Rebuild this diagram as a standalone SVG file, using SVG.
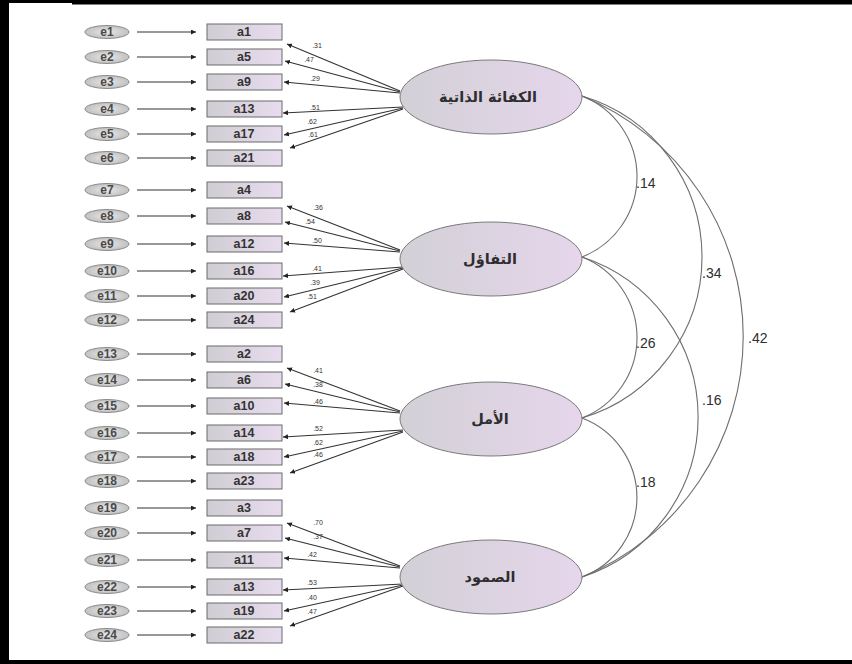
<svg xmlns="http://www.w3.org/2000/svg" width="852" height="664" viewBox="0 0 852 664">
  <defs>
    <linearGradient id="boxFill" x1="0" y1="0" x2="1" y2="0">
      <stop offset="0" stop-color="#cfcdd3"/>
      <stop offset="1" stop-color="#e8dcee"/>
    </linearGradient>
    <linearGradient id="latFill" x1="0" y1="0" x2="1" y2="0">
      <stop offset="0" stop-color="#d2d0d6"/>
      <stop offset="1" stop-color="#e6d6ec"/>
    </linearGradient>
    <radialGradient id="errFill" cx="0.5" cy="0.5" r="0.6">
      <stop offset="0" stop-color="#e8e8e8"/>
      <stop offset="1" stop-color="#b9b9b9"/>
    </radialGradient>
    <marker id="tip" viewBox="0 0 6 6" refX="6" refY="3" markerWidth="5" markerHeight="5" markerUnits="userSpaceOnUse" orient="auto">
      <path d="M0,0 L6,3 L0,6 z" fill="#222"/>
    </marker>
  </defs>
  <style>
    .err ellipse { fill: url(#errFill); stroke: #8a8a8a; stroke-width: 1; }
    .err text { font-family: "Liberation Sans", Arial, sans-serif; font-size: 12px; font-weight: bold; fill: #4a4a4a; text-anchor: middle; }
    .obs rect { fill: url(#boxFill); stroke: #6a6a6a; stroke-width: 1; }
    .obs text { font-family: "Liberation Sans", Arial, sans-serif; font-size: 12.5px; font-weight: bold; fill: #333; text-anchor: middle; }
    .lat ellipse { fill: url(#latFill); stroke: #7a7a7a; stroke-width: 1; }
    .lat text { font-family: "DejaVu Sans", "Noto Sans", sans-serif; font-size: 14.5px; font-weight: bold; fill: #2e2e2e; text-anchor: middle; }
    .arr { stroke: #333; stroke-width: 1.1; fill: none; marker-end: url(#tip); }
    .load { stroke: #333; stroke-width: 1.1; fill: none; marker-end: url(#tip); }
    .cov { stroke: #6e6e6e; stroke-width: 1.1; fill: none; }
    .w { font-family: "Liberation Sans", Arial, sans-serif; font-size: 7px; fill: #333; text-anchor: middle; }
    .r { font-family: "Liberation Sans", Arial, sans-serif; font-size: 14px; fill: #2e2e2e; }
  </style>

  <rect x="0" y="0" width="852" height="664" fill="#ffffff"/>

  <!-- frame: left, top and bottom rules -->
  <g id="frame" stroke="#000" fill="none">
    <line x1="0" y1="1.5" x2="852" y2="1.5" stroke-width="3"/>
    <line x1="72" y1="2.25" x2="852" y2="2.25" stroke-width="4.5"/>
    <line x1="4.5" y1="0" x2="4.5" y2="664" stroke-width="9"/>
    <line x1="0" y1="662" x2="852" y2="662" stroke-width="4"/>
  </g>

  <!-- connectors -->
  <g id="connectors">
    <!-- error terms to indicators -->
    <line class="arr" x1="137" y1="32" x2="196" y2="32"/>
    <line class="arr" x1="137" y1="57" x2="196" y2="57"/>
    <line class="arr" x1="137" y1="82" x2="196" y2="82"/>
    <line class="arr" x1="137" y1="109" x2="196" y2="109"/>
    <line class="arr" x1="137" y1="134" x2="196" y2="134"/>
    <line class="arr" x1="137" y1="158" x2="196" y2="158"/>
    <line class="arr" x1="137" y1="190" x2="196" y2="190"/>
    <line class="arr" x1="137" y1="216" x2="196" y2="216"/>
    <line class="arr" x1="137" y1="244" x2="196" y2="244"/>
    <line class="arr" x1="137" y1="271" x2="196" y2="271"/>
    <line class="arr" x1="137" y1="296" x2="196" y2="296"/>
    <line class="arr" x1="137" y1="320" x2="196" y2="320"/>
    <line class="arr" x1="137" y1="354" x2="196" y2="354"/>
    <line class="arr" x1="137" y1="380" x2="196" y2="380"/>
    <line class="arr" x1="137" y1="406" x2="196" y2="406"/>
    <line class="arr" x1="137" y1="433" x2="196" y2="433"/>
    <line class="arr" x1="137" y1="457" x2="196" y2="457"/>
    <line class="arr" x1="137" y1="481" x2="196" y2="481"/>
    <line class="arr" x1="137" y1="508" x2="196" y2="508"/>
    <line class="arr" x1="137" y1="533" x2="196" y2="533"/>
    <line class="arr" x1="137" y1="560" x2="196" y2="560"/>
    <line class="arr" x1="137" y1="587" x2="196" y2="587"/>
    <line class="arr" x1="137" y1="611" x2="196" y2="611"/>
    <line class="arr" x1="137" y1="635" x2="196" y2="635"/>

    <!-- loadings: self-efficacy -->
    <line class="load" x1="400" y1="91" x2="287" y2="44"/>
    <line class="load" x1="400" y1="92" x2="285" y2="61"/>
    <line class="load" x1="400" y1="93" x2="284" y2="82"/>
    <line class="load" x1="403" y1="107" x2="283" y2="113"/>
    <line class="load" x1="403" y1="108" x2="284" y2="135"/>
    <line class="load" x1="403" y1="109" x2="290" y2="148"/>
    <!-- loadings: optimism -->
    <line class="load" x1="400" y1="250" x2="287" y2="206"/>
    <line class="load" x1="400" y1="251" x2="285" y2="222"/>
    <line class="load" x1="400" y1="252" x2="284" y2="243"/>
    <line class="load" x1="403" y1="267" x2="283" y2="276"/>
    <line class="load" x1="403" y1="268" x2="284" y2="297"/>
    <line class="load" x1="403" y1="269" x2="290" y2="312"/>
    <!-- loadings: hope -->
    <line class="load" x1="400" y1="411" x2="287" y2="368"/>
    <line class="load" x1="400" y1="412" x2="285" y2="384"/>
    <line class="load" x1="400" y1="413" x2="284" y2="403"/>
    <line class="load" x1="403" y1="430" x2="283" y2="437"/>
    <line class="load" x1="403" y1="431" x2="284" y2="457"/>
    <line class="load" x1="403" y1="432" x2="290" y2="473"/>
    <!-- loadings: resilience -->
    <line class="load" x1="400" y1="566" x2="287" y2="523"/>
    <line class="load" x1="400" y1="567" x2="285" y2="538"/>
    <line class="load" x1="400" y1="568" x2="284" y2="558"/>
    <line class="load" x1="403" y1="584" x2="283" y2="590"/>
    <line class="load" x1="403" y1="585" x2="284" y2="611"/>
    <line class="load" x1="403" y1="586" x2="290" y2="626"/>

    <!-- loading weights -->
    <text class="w" x="317" y="48">.31</text>
    <text class="w" x="309" y="62">.47</text>
    <text class="w" x="315" y="81">.29</text>
    <text class="w" x="315" y="110">.51</text>
    <text class="w" x="312" y="124">.62</text>
    <text class="w" x="313" y="137">.61</text>

    <text class="w" x="318" y="210">.36</text>
    <text class="w" x="310" y="224">.54</text>
    <text class="w" x="317" y="243">.50</text>
    <text class="w" x="317" y="271">.41</text>
    <text class="w" x="315" y="285">.39</text>
    <text class="w" x="312" y="299">.51</text>

    <text class="w" x="318" y="373">.41</text>
    <text class="w" x="318" y="387">.38</text>
    <text class="w" x="318" y="404">.46</text>
    <text class="w" x="318" y="431">.52</text>
    <text class="w" x="318" y="445">.62</text>
    <text class="w" x="318" y="457">.46</text>

    <text class="w" x="318" y="525">.70</text>
    <text class="w" x="318" y="539">.37</text>
    <text class="w" x="312" y="557">.42</text>
    <text class="w" x="312" y="585">.53</text>
    <text class="w" x="312" y="600">.40</text>
    <text class="w" x="312" y="614">.47</text>

    <!-- correlations between factors -->
    <path class="cov" d="M582,96 A86.4,86.4 0 0 1 582,257"/>
    <path class="cov" d="M582,257 A86.4,86.4 0 0 1 582,418"/>
    <path class="cov" d="M582,418 A85,85 0 0 1 582,577"/>
    <path class="cov" d="M582,96 A168,168 0 0 1 582,418"/>
    <path class="cov" d="M582,257 A168.3,168.3 0 0 1 582,577"/>
    <path class="cov" d="M582,96 A260,260 0 0 1 582,577"/>

    <text class="r" x="636" y="188">.14</text>
    <text class="r" x="636" y="348">.26</text>
    <text class="r" x="636" y="487">.18</text>
    <text class="r" x="702" y="278">.34</text>
    <text class="r" x="702" y="405">.16</text>
    <text class="r" x="748" y="343">.42</text>
  </g>

  <!-- error terms -->
  <g id="e1" class="err"><ellipse cx="107" cy="32" rx="22" ry="6.5"/><text x="107" y="36">e1</text></g>
  <g id="e2" class="err"><ellipse cx="107" cy="57" rx="22" ry="6.5"/><text x="107" y="61">e2</text></g>
  <g id="e3" class="err"><ellipse cx="107" cy="82" rx="22" ry="6.5"/><text x="107" y="86">e3</text></g>
  <g id="e4" class="err"><ellipse cx="107" cy="109" rx="22" ry="6.5"/><text x="107" y="113">e4</text></g>
  <g id="e5" class="err"><ellipse cx="107" cy="134" rx="22" ry="6.5"/><text x="107" y="138">e5</text></g>
  <g id="e6" class="err"><ellipse cx="107" cy="158" rx="22" ry="6.5"/><text x="107" y="162">e6</text></g>
  <g id="e7" class="err"><ellipse cx="107" cy="190" rx="22" ry="6.5"/><text x="107" y="194">e7</text></g>
  <g id="e8" class="err"><ellipse cx="107" cy="216" rx="22" ry="6.5"/><text x="107" y="220">e8</text></g>
  <g id="e9" class="err"><ellipse cx="107" cy="244" rx="22" ry="6.5"/><text x="107" y="248">e9</text></g>
  <g id="e10" class="err"><ellipse cx="107" cy="271" rx="22" ry="6.5"/><text x="107" y="275">e10</text></g>
  <g id="e11" class="err"><ellipse cx="107" cy="296" rx="22" ry="6.5"/><text x="107" y="300">e11</text></g>
  <g id="e12" class="err"><ellipse cx="107" cy="320" rx="22" ry="6.5"/><text x="107" y="324">e12</text></g>
  <g id="e13" class="err"><ellipse cx="107" cy="354" rx="22" ry="6.5"/><text x="107" y="358">e13</text></g>
  <g id="e14" class="err"><ellipse cx="107" cy="380" rx="22" ry="6.5"/><text x="107" y="384">e14</text></g>
  <g id="e15" class="err"><ellipse cx="107" cy="406" rx="22" ry="6.5"/><text x="107" y="410">e15</text></g>
  <g id="e16" class="err"><ellipse cx="107" cy="433" rx="22" ry="6.5"/><text x="107" y="437">e16</text></g>
  <g id="e17" class="err"><ellipse cx="107" cy="457" rx="22" ry="6.5"/><text x="107" y="461">e17</text></g>
  <g id="e18" class="err"><ellipse cx="107" cy="481" rx="22" ry="6.5"/><text x="107" y="485">e18</text></g>
  <g id="e19" class="err"><ellipse cx="107" cy="508" rx="22" ry="6.5"/><text x="107" y="512">e19</text></g>
  <g id="e20" class="err"><ellipse cx="107" cy="533" rx="22" ry="6.5"/><text x="107" y="537">e20</text></g>
  <g id="e21" class="err"><ellipse cx="107" cy="560" rx="22" ry="6.5"/><text x="107" y="564">e21</text></g>
  <g id="e22" class="err"><ellipse cx="107" cy="587" rx="22" ry="6.5"/><text x="107" y="591">e22</text></g>
  <g id="e23" class="err"><ellipse cx="107" cy="611" rx="22" ry="6.5"/><text x="107" y="615">e23</text></g>
  <g id="e24" class="err"><ellipse cx="107" cy="635" rx="22" ry="6.5"/><text x="107" y="639">e24</text></g>

  <!-- observed indicators -->
  <g id="a1" class="obs"><rect x="207" y="24" width="75" height="16"/><text x="244" y="36">a1</text></g>
  <g id="a5" class="obs"><rect x="207" y="49" width="75" height="16"/><text x="244" y="61">a5</text></g>
  <g id="a9" class="obs"><rect x="207" y="74" width="75" height="16"/><text x="244" y="86">a9</text></g>
  <g id="a13" class="obs"><rect x="207" y="101" width="75" height="16"/><text x="244" y="113">a13</text></g>
  <g id="a17" class="obs"><rect x="207" y="126" width="75" height="16"/><text x="244" y="138">a17</text></g>
  <g id="a21" class="obs"><rect x="207" y="150" width="75" height="16"/><text x="244" y="162">a21</text></g>

  <g id="a4" class="obs"><rect x="207" y="182" width="75" height="16"/><text x="244" y="194">a4</text></g>
  <g id="a8" class="obs"><rect x="207" y="208" width="75" height="16"/><text x="244" y="220">a8</text></g>
  <g id="a12" class="obs"><rect x="207" y="236" width="75" height="16"/><text x="244" y="248">a12</text></g>
  <g id="a16" class="obs"><rect x="207" y="263" width="75" height="16"/><text x="244" y="275">a16</text></g>
  <g id="a20" class="obs"><rect x="207" y="288" width="75" height="16"/><text x="244" y="300">a20</text></g>
  <g id="a24" class="obs"><rect x="207" y="312" width="75" height="16"/><text x="244" y="324">a24</text></g>

  <g id="a2" class="obs"><rect x="207" y="346" width="75" height="16"/><text x="244" y="358">a2</text></g>
  <g id="a6" class="obs"><rect x="207" y="372" width="75" height="16"/><text x="244" y="384">a6</text></g>
  <g id="a10" class="obs"><rect x="207" y="398" width="75" height="16"/><text x="244" y="410">a10</text></g>
  <g id="a14" class="obs"><rect x="207" y="425" width="75" height="16"/><text x="244" y="437">a14</text></g>
  <g id="a18" class="obs"><rect x="207" y="449" width="75" height="16"/><text x="244" y="461">a18</text></g>
  <g id="a23" class="obs"><rect x="207" y="473" width="75" height="16"/><text x="244" y="485">a23</text></g>

  <g id="a3" class="obs"><rect x="207" y="500" width="75" height="16"/><text x="244" y="512">a3</text></g>
  <g id="a7" class="obs"><rect x="207" y="525" width="75" height="16"/><text x="244" y="537">a7</text></g>
  <g id="a11" class="obs"><rect x="207" y="552" width="75" height="16"/><text x="244" y="564">a11</text></g>
  <g id="a13b" class="obs"><rect x="207" y="579" width="75" height="16"/><text x="244" y="591">a13</text></g>
  <g id="a19" class="obs"><rect x="207" y="603" width="75" height="16"/><text x="244" y="615">a19</text></g>
  <g id="a22" class="obs"><rect x="207" y="627" width="75" height="16"/><text x="244" y="639">a22</text></g>

  <!-- latent factors -->
  <g id="self-efficacy" class="lat"><ellipse cx="491" cy="97" rx="91" ry="37"/><text x="488" y="102">الكفائة الذاتية</text></g>
  <g id="optimism" class="lat"><ellipse cx="491" cy="259" rx="91" ry="37"/><text x="490" y="264">التفاؤل</text></g>
  <g id="hope" class="lat"><ellipse cx="491" cy="419" rx="91" ry="37"/><text x="490" y="424">الأمل</text></g>
  <g id="resilience" class="lat"><ellipse cx="491" cy="577" rx="91" ry="37"/><text x="490" y="582">الصمود</text></g>
</svg>
